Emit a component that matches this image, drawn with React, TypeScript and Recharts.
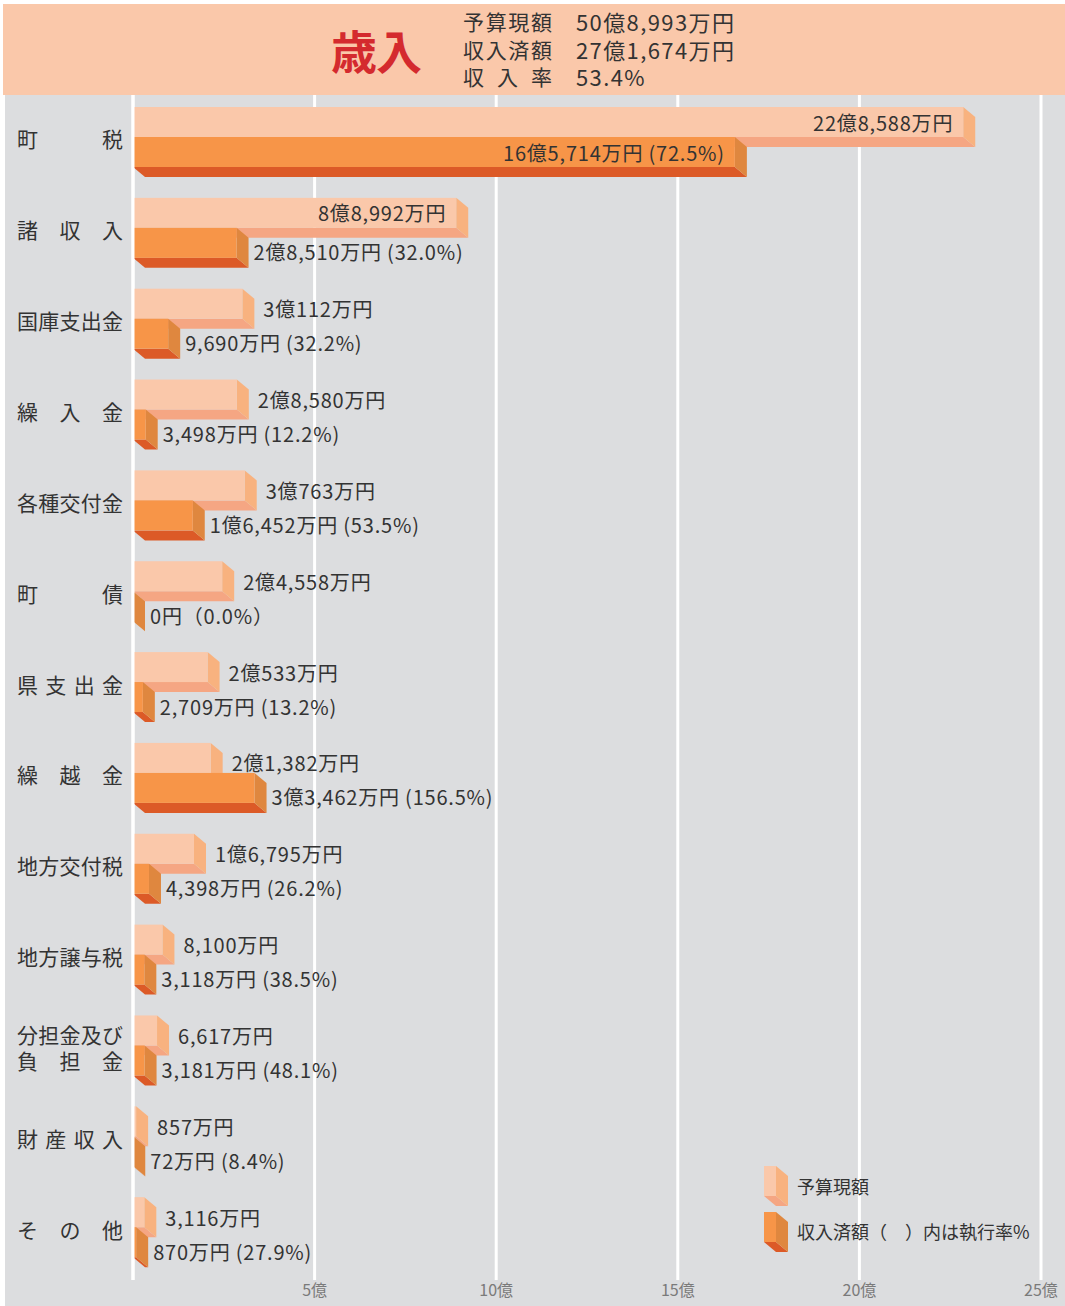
import React from 'react';
import { BarChart, Bar, XAxis, YAxis, CartesianGrid, LabelList } from 'recharts';

// 歳入 — amounts in 万円
const categories = [
  '町税', '諸収入', '国庫支出金', '繰入金', '各種交付金', '町債', '県支出金',
  '繰越金', '地方交付税', '地方譲与税', '分担金及び\n負担金', '財産収入', 'その他',
];
const budgetMan = [228588, 88992, 30112, 28580, 30763, 24558, 20533, 21382, 16795, 8100, 6617, 857, 3116];
const receivedMan = [165714, 28510, 9690, 3498, 16452, 0, 2709, 33462, 4398, 3118, 3181, 72, 870];
const execRates = [72.5, 32.0, 32.2, 12.2, 53.5, 0.0, 13.2, 156.5, 26.2, 38.5, 48.1, 8.4, 27.9];
const xTicks = [0, 5, 10, 15, 20, 25];

const summaryLabels = ['予算現額', '収入済額', '収入率'];
const summaryValues = ['50億8,993万円', '27億1,674万円', '53.4%'];

const FONT = '"Noto Sans CJK JP", "Noto Sans", sans-serif';
const TEXT = '#333333';
const DX = 12;
const DY = 10;

const budgetColors = { front: '#FAC8AA', side: '#F8B27F', bottom: '#F5A683' };
const receivedColors = { front: '#F79548', side: '#DF873F', bottom: '#DC5A27' };

const formatMan = (v: number) => {
  if (v === 0) return '0円';
  const oku = Math.floor(v / 10000);
  const man = (v % 10000).toLocaleString('en-US');
  return oku > 0 ? `${oku}億${man}万円` : `${man}万円`;
};

const data = categories.map((name, i) => ({
  name,
  budget: budgetMan[i] / 10000,
  received: receivedMan[i] / 10000,
  budgetLabel: formatMan(budgetMan[i]),
  receivedLabel:
    receivedMan[i] === 0
      ? `0円（${execRates[i].toFixed(1)}%）`
      : `${formatMan(receivedMan[i])} (${execRates[i].toFixed(1)}%)`,
}));

// bar with a right side face and a bottom face
const Bar3D = (props: any) => {
  const { x, y, height, colors } = props;
  const w = Math.max(props.width || 0, 0);
  return (
    <g>
      <polygon
        points={`${x},${y + height} ${x + w},${y + height} ${x + w + DX},${y + height + DY} ${x + DX},${y + height + DY}`}
        fill={colors.bottom}
      />
      <polygon
        points={`${x + w},${y} ${x + w + DX},${y + DY} ${x + w + DX},${y + height + DY} ${x + w},${y + height}`}
        fill={colors.side}
      />
      {w > 0 && <rect x={x} y={y} width={w} height={height} fill={colors.front} />}
    </g>
  );
};

const makeLabel = (outsideGap: number, outsideDy: number) => (props: any) => {
  const { x, y, height, value } = props;
  const w = Math.max(props.width || 0, 0);
  const inside = w > 170;
  return (
    <text
      x={inside ? x + w - 10 : x + w + DX + outsideGap}
      y={y + height / 2 + (inside ? 0 : outsideDy)}
      textAnchor={inside ? 'end' : 'start'}
      dominantBaseline="central"
      fontFamily={FONT}
      fontSize={20}
      letterSpacing={0.8}
      fill={TEXT}
    >
      {value}
    </text>
  );
};

const LABEL_LEFT = 17;
const LABEL_RIGHT = 123;
const CHAR_W = 21;

const spread = (line: string, left: number, right: number, cw: number) => {
  const chars = Array.from(line);
  const step = chars.length > 1 ? (right - left - cw) / (chars.length - 1) : 0;
  return chars.map((c, i) => ({ c, x: left + i * step }));
};

const CategoryTick = ({ y, payload }: any) => {
  const lines = String(payload.value).split('\n');
  const lineH = 26;
  return (
    <g>
      {lines.map((line, li) => {
        const cy = y + (li - (lines.length - 1) / 2) * lineH + 1;
        return spread(line, LABEL_LEFT, LABEL_RIGHT, CHAR_W).map((ch, ci) => (
          <text
            key={`${li}-${ci}`}
            x={ch.x}
            y={cy}
            dominantBaseline="central"
            fontFamily={FONT}
            fontSize={CHAR_W}
            fill={TEXT}
          >
            {ch.c}
          </text>
        ));
      })}
    </g>
  );
};

const LegendIcon = ({ x, y, colors }: any) => (
  <Bar3D x={x} y={y} width={12} height={30} colors={colors} />
);

const App: React.FC = () => {
  return (
    <div style={{ position: 'relative', width: 1065, height: 1306, fontFamily: FONT }}>
      <style>{`body { margin: 0; }`}</style>
      <div style={{ position: 'absolute', left: 5, top: 95, width: 1060, height: 1211, background: '#DCDDDF' }} />
      <div style={{ position: 'absolute', left: 0, top: 0 }}>
        <BarChart
          width={1065}
          height={1306}
          data={data}
          layout="vertical"
          barGap={0}
          margin={{ top: 92, right: 24, bottom: 0, left: 0 }}
        >
          <CartesianGrid horizontal={false} stroke="#FFFFFF" strokeWidth={3} />
          <XAxis
            type="number"
            domain={[0, 25]}
            ticks={xTicks}
            height={26}
            axisLine={false}
            tickLine={false}
            tickSize={0}
            tickMargin={5}
            tick={{ fill: '#7A7A7A', fontSize: 16, fontFamily: FONT }}
            tickFormatter={(v) => (v === 0 ? '' : `${v}億`)}
          />
          <YAxis
            type="category"
            dataKey="name"
            width={133}
            axisLine={{ stroke: '#FFFFFF', strokeWidth: 3 }}
            tickLine={false}
            padding={{ top: 0, bottom: 7 }}
            tick={<CategoryTick />}
            interval={0}
          />
          <Bar
            dataKey="budget"
            barSize={30}
            isAnimationActive={false}
            shape={(p: any) => <Bar3D {...p} colors={budgetColors} />}
          >
            <LabelList dataKey="budgetLabel" content={makeLabel(9, 5)} />
          </Bar>
          <Bar
            dataKey="received"
            barSize={30}
            isAnimationActive={false}
            shape={(p: any) => <Bar3D {...p} colors={receivedColors} />}
          >
            <LabelList dataKey="receivedLabel" content={makeLabel(5, 9)} />
          </Bar>
        </BarChart>
      </div>

      {/* header band */}
      <div style={{ position: 'absolute', left: 3, top: 4, width: 1062, height: 91, background: '#FAC8AA' }}>
        <div
          style={{
            position: 'absolute', left: 328, top: 17, fontSize: 46, fontWeight: 700,
            color: '#D42A2E', lineHeight: '56px', letterSpacing: -1,
          }}
        >
          歳入
        </div>
        <svg width={400} height={91} style={{ position: 'absolute', left: 0, top: 0, overflow: 'visible' }}>
          {summaryLabels.map((lab, i) => {
            const cy = 17 + i * 27.5;
            return (
              <g key={lab}>
                {spread(lab, 460, 550, 22).map((ch, ci) => (
                  <text key={ci} x={ch.x} y={cy} dominantBaseline="central" fontFamily={FONT} fontSize={21} fill={TEXT}>
                    {ch.c}
                  </text>
                ))}
                <text x={573} y={cy} dominantBaseline="central" fontFamily={FONT} fontSize={22} letterSpacing={1.4} fill={TEXT}>
                  {summaryValues[i]}
                </text>
              </g>
            );
          })}
        </svg>
      </div>

      {/* legend */}
      <svg width={300} height={100} style={{ position: 'absolute', left: 760, top: 1160 }}>
        <LegendIcon x={4} y={6} colors={budgetColors} />
        <text x={37} y={26} dominantBaseline="central" fontFamily={FONT} fontSize={18} fill={TEXT}>予算現額</text>
        <LegendIcon x={4} y={52} colors={receivedColors} />
        <text x={37} y={71} dominantBaseline="central" fontFamily={FONT} fontSize={18} fill={TEXT}>
          収入済額（　）内は執行率%
        </text>
      </svg>
    </div>
  );
};

export default App;
